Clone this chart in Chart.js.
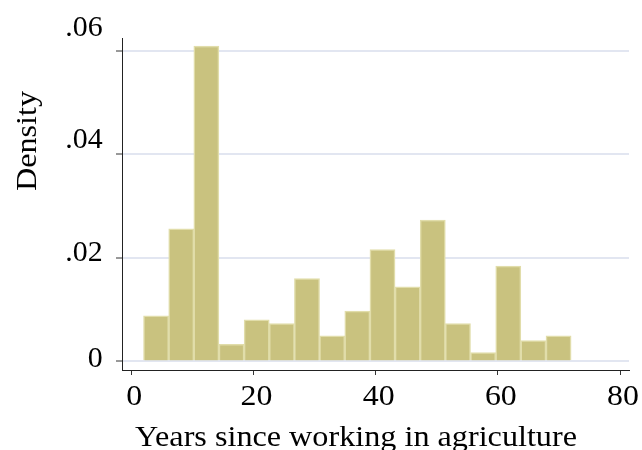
<!DOCTYPE html>
<html>
<head>
<meta charset="utf-8">
<script src="https://cdn.jsdelivr.net/npm/chart.js@4"></script>
<style>
  html, body { margin: 0; padding: 0; background: #ffffff; }
  #wrap { width: 642px; height: 450px; }
</style>
</head>
<body>
<div id="wrap"><canvas id="hist" width="642" height="450"></canvas></div>
<script>
// Histogram bins: midpoints (years) and density heights
const binMids = [4.06, 8.18, 12.29, 16.41, 20.53, 24.65, 28.76, 32.88, 37.00,
                 41.12, 45.24, 49.35, 53.47, 57.59, 61.71, 65.82, 69.94];
const density = [0.0088, 0.0256, 0.0609, 0.0033, 0.0080, 0.0073, 0.0160, 0.0049, 0.0097,
                 0.0216, 0.0144, 0.0273, 0.0073, 0.0017, 0.0184, 0.0040, 0.0049];

// Axis tick values and their labels
const xTicks = [0, 20, 40, 60, 80];
const xTickLabels = ['0', '20', '40', '60', '80'];
const yTicks = [0, 0.02, 0.04, 0.06];
const yTickLabels = ['0', '.02', '.04', '.06'];

const xTitle = 'Years since working in agriculture';
const yTitle = 'Density';

const FONT = "'Liberation Serif', 'Times New Roman', serif";
const TEXT_COLOR = '#000000';

// baseline offsets of the y labels relative to their tick (px)
const yLabelBaseline = [5.7, 3.4, -6, -14.7];

function drawText(ctx, text, x, y, size, align, sx, rotate) {
  ctx.save();
  ctx.translate(x, y);
  if (rotate) ctx.rotate(rotate);
  ctx.scale(sx, 1);
  ctx.font = size + 'px ' + FONT;
  ctx.fillStyle = TEXT_COLOR;
  ctx.textAlign = align;
  ctx.textBaseline = 'alphabetic';
  ctx.fillText(text, 0, 0);
  ctx.restore();
}

const labelPlugin = {
  id: 'stataLabels',
  afterDraw(chart) {
    const ctx = chart.ctx;
    const xs = chart.scales.x, ys = chart.scales.y;
    // y tick labels
    yTicks.forEach((v, i) => {
      const py = ys.getPixelForValue(v) + yLabelBaseline[i];
      drawText(ctx, yTickLabels[i], 102.7, py, 29, 'right', 1.03, 0);
    });
    // x tick labels
    xTicks.forEach((v, i) => {
      const px = xs.getPixelForValue(v) + 3;
      drawText(ctx, xTickLabels[i], px, 405, 29.5, 'center', 1.08, 0);
    });
    // axis titles
    drawText(ctx, xTitle, 356, 446, 29, 'center', 1.11, 0);
    drawText(ctx, yTitle, 35.5, 141, 29.5, 'center', 1.09, -Math.PI / 2);
  }
};

function build() {
  new Chart(document.getElementById('hist'), {
    type: 'bar',
    data: {
      datasets: [{
        data: binMids.map((m, i) => ({ x: m, y: density[i] })),
        backgroundColor: 'rgb(201,194,127)',
        borderColor: 'rgb(225,221,170)',
        borderWidth: 1.5,
        barPercentage: 1.0,
        categoryPercentage: 1.0,
        grouped: false
      }]
    },
    options: {
      responsive: false,
      animation: false,
      events: [],
      layout: { padding: { top: 38, right: 13, left: 0, bottom: 0 } },
      plugins: { legend: { display: false }, tooltip: { enabled: false } },
      scales: {
        x: {
          type: 'linear',
          offset: false,
          min: -1.52,
          max: 81.47,
          afterBuildTicks: s => { s.ticks = xTicks.map(v => ({ value: v })); },
          afterFit: s => { s.height = 80; },
          ticks: { display: false },
          grid: {
            offset: false,
            drawOnChartArea: false,
            drawTicks: true,
            tickLength: 5,
            tickColor: '#333333',
            tickWidth: 1
          },
          border: { display: true, color: '#222222', width: 1 }
        },
        y: {
          type: 'linear',
          min: -0.00168,
          max: 0.06245,
          afterBuildTicks: s => { s.ticks = yTicks.map(v => ({ value: v })); },
          afterFit: s => { s.width = 122; },
          ticks: { display: false },
          grid: {
            color: '#e2e6f1',
            lineWidth: 2,
            drawTicks: true,
            tickLength: 6,
            tickColor: '#333333',
            tickWidth: 1
          },
          border: { display: true, color: '#222222', width: 1 }
        }
      }
    },
    plugins: [labelPlugin]
  });
}

// make sure the serif face is ready before the canvas text is drawn
const fontsReady = document.fonts && document.fonts.ready ? document.fonts.ready : Promise.resolve();
fontsReady.then(() => document.fonts.load("29px 'Liberation Serif'"))
  .then(build, build);
</script>
</body>
</html>
